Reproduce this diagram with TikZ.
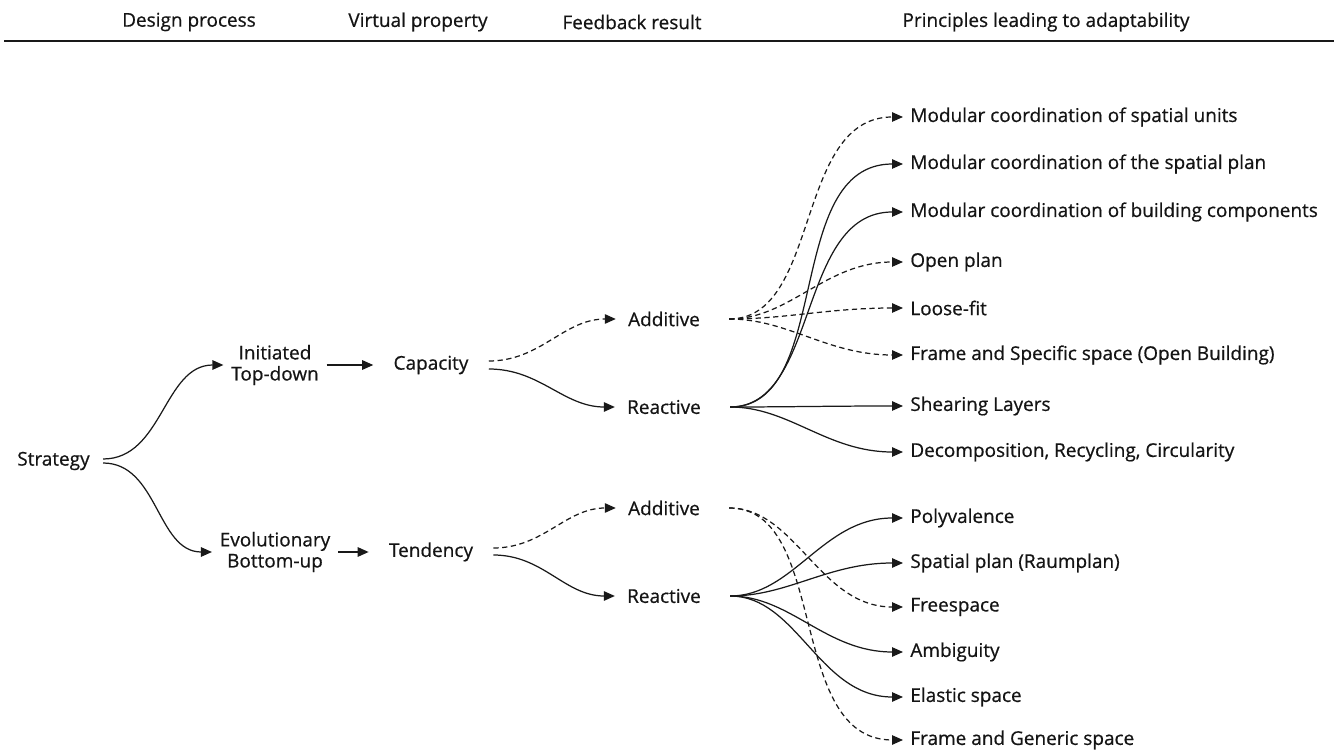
\documentclass[tikz,border=0pt]{standalone}
\usepackage{fontspec}
\setmainfont{Open Sans}[FakeBold=0.6]
\usetikzlibrary{positioning, arrows.meta}
\definecolor{linecolor}{RGB}{25, 25, 25}
\definecolor{textcolor}{RGB}{20, 20, 20}

\begin{document}
\begin{tikzpicture}[
    lbl/.style={font=\fontsize{10.8}{12}\selectfont, text=textcolor, align=center, inner ysep=0.1cm},
    head/.style={lbl},
    stage/.style={lbl, inner xsep=0.15cm},
    prop/.style={lbl, inner xsep=0.4cm},
    result/.style={lbl, inner xsep=0.24cm},
    principle/.style={lbl, anchor=west, inner xsep=0.14cm},
    flow/.style={-{Triangle[length=0.22cm, width=0.19cm]}, draw=linecolor, line width=0.7pt},
    dashflow/.style={flow, dash pattern=on 3pt off 2pt},
    fan/.style={shorten <=0.34cm},
]

\useasboundingbox (0,0) rectangle (26.76,-15.02);

% --- Column x-positions ---
\def\colS{1.07}
\def\colD{5.5}
\def\colV{8.62}
\def\colF{13.28}
\def\colP{18.06}

% ======= HEADER =======
\node[head] (H-1) at (3.78,-0.44)  {Design process};
\node[head] (H-2) at (8.36,-0.44)  {Virtual property};
\node[head] (H-3) at (12.64,-0.44) {Feedback result};
\node[head] (H-4) at (20.92,-0.44) {Principles leading to adaptability};
\draw[line width=1.1pt, linecolor] (0.08,-0.82) -- (26.68,-0.82);

% ======= STRATEGY / DESIGN PROCESS =======
\node[lbl, inner xsep=0.26cm] (S) at (\colS,-9.22) {Strategy};
\node[stage] (D-1) at (\colD,-7.3)  {Initiated\\Top-down};
\node[stage] (D-2) at (\colD,-11.04) {Evolutionary\\Bottom-up};

% ======= VIRTUAL PROPERTY =======
\node[prop] (V-1) at (\colV,-7.3)  {Capacity};
\node[prop] (V-2) at (\colV,-11.04) {Tendency};

% ======= FEEDBACK RESULT =======
\node[result] (FA-1) at (\colF,-6.38)  {Additive};
\node[result] (FR-1) at (\colF,-8.14)  {Reactive};
\node[result] (FA-2) at (\colF,-10.16) {Additive};
\node[result] (FR-2) at (\colF,-11.92) {Reactive};

% ======= PRINCIPLES =======
\node[principle] (P-1)  at (\colP,-2.34)  {Modular coordination of spatial units};
\node[principle] (P-2)  at (\colP,-3.28)  {Modular coordination of the spatial plan};
\node[principle] (P-3)  at (\colP,-4.24)  {Modular coordination of building components};
\node[principle] (P-4)  at (\colP,-5.24)  {Open plan};
\node[principle] (P-5)  at (\colP,-6.16)  {Loose-fit};
\node[principle] (P-6)  at (\colP,-7.10)  {Frame and Specific space (Open Building)};
\node[principle] (P-7)  at (\colP,-8.12)  {Shearing Layers};
\node[principle] (P-8)  at (\colP,-9.04)  {Decomposition, Recycling, Circularity};
\node[principle] (P-9)  at (\colP,-10.36) {Polyvalence};
\node[principle] (P-10) at (\colP,-11.26) {Spatial plan (Raumplan)};
\node[principle] (P-11) at (\colP,-12.14) {Freespace};
\node[principle] (P-12) at (\colP,-13.04) {Ambiguity};
\node[principle] (P-13) at (\colP,-13.94) {Elastic space};
\node[principle] (P-14) at (\colP,-14.80) {Frame and Generic space};

% ======= CONNECTIONS =======
% Strategy -> design process
\draw[flow] ([yshift=0.04cm]S.east)  to[out=0,in=180] (D-1.west);
\draw[flow] ([yshift=-0.04cm]S.east) to[out=0,in=180] (D-2.west);

% Design process -> virtual property
\draw[flow] (D-1.east) -- (V-1.west);
\draw[flow] (D-2.east) -- (V-2.west);

% Virtual property -> feedback result
\draw[dashflow] ([yshift=0.08cm]V-1.east)  to[out=0,in=180] (FA-1.west);
\draw[flow]     ([yshift=-0.08cm]V-1.east) to[out=0,in=180] (FR-1.west);
\draw[dashflow] ([yshift=0.08cm]V-2.east)  to[out=0,in=180] (FA-2.west);
\draw[flow]     ([yshift=-0.06cm]V-2.east) to[out=0,in=180] (FR-2.west);

% Feedback result -> principles
\foreach \j in {1,4,5,6} {
    \draw[dashflow, fan] (FA-1.east) to[out=0,in=180] (P-\j.west);
}
\foreach \j in {2,3,7,8} {
    \draw[flow, fan] (FR-1.east) to[out=0,in=180] (P-\j.west);
}
\foreach \j in {11,14} {
    \draw[dashflow, fan] (FA-2.east) to[out=0,in=180] (P-\j.west);
}
\foreach \j in {9,10,12,13} {
    \draw[flow, fan] (FR-2.east) to[out=0,in=180] (P-\j.west);
}

\end{tikzpicture}
\end{document}
